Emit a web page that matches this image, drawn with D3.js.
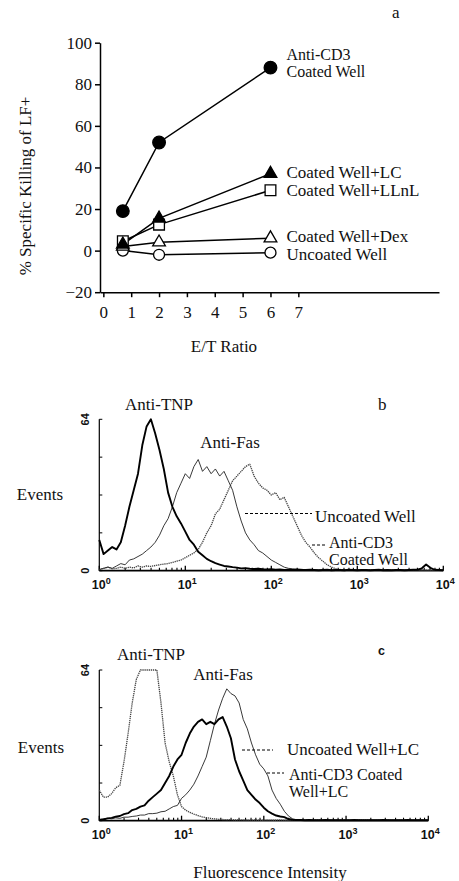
<!DOCTYPE html>
<html>
<head>
<meta charset="utf-8">
<script src="https://cdn.jsdelivr.net/npm/d3@7"></script>
<style>
body { margin: 0; background: #fff; }
svg { display: block; }
text { font-family: "Liberation Serif", "Times New Roman", serif; font-size: 17px; fill: #111; }
.sans { font-family: "Liberation Sans", Arial, sans-serif; font-weight: bold; font-size: 12.5px; }
.two { font-size: 16px; }
</style>
</head>
<body>
<script>
// ---- panel a : % specific killing vs E/T ratio
var etRatio = [0.7, 2, 6];
var killCD3 = [19, 52, 88];
var killLC = [3, 15.5, 37];
var killLLnL = [4.5, 12.5, 29];
var killDex = [2, 4, 6];
var killUncoated = [0, -2, -1];
var xTicksA = [0, 1, 2, 3, 4, 5, 6, 7];
var yTicksA = [-20, 0, 20, 40, 60, 80, 100];

// ---- panels b, c : flow histograms, log channel every 0.05 decade (0..4)
var channels = d3.range(0, 4.001, 0.05);
var decades = [0, 1, 2, 3, 4];
var countTicks = [0, 16, 32, 48, 64];

var tnpB = [13,7,8.5,10,9,12,19,27,34,41, 53,61,64,58,51,43,33,27,23,20,
  16.5,13,11,8,6.5,5,4,3.2,2.6,2, 1.8,1.5,1.3,1,1.1,0.8,0.7,0.8,0.6,0.5,
  0.6,0.4,0.5,0.3,0.4,0.3,0.5,0.3,0.3,0.4, 0.3,0.2,0.3,0.4,0.2,0.3,0.3,0.2,0.4,0.3,
  0.2,0.3,0.3,0.2,0.3,0.4,0.2,0.3,0.2,0.3, 0.3,0.2,0.3,0.4,0.4,1,2.6,1.2,0.4,0.3, 0.2];
var uncoatedB = [0.5,1,1.5,1,2,3,2.5,4.5,5,6, 7,8.5,10,12,15,19,22,27,33,37,
  41,39,44,47,42,44,41,43,40,42, 38,34,27,21,16,13,11,8.5,7.5,6,
  4.5,3.5,2.5,1.5,1,0.8,0.5,0.6,0.4,0.3, 0.3,0.2,0.3,0.2,0.2,0.3,0.2,0.2,0.1,0.2,
  0.2,0.1,0.2,0.2,0.1,0.2,0.1,0.1,0.2,0.1, 0.1,0.2,0.1,0.1,0.1,0.2,0.1,0.1,0.1,0.1, 0.1];
var cd3B = [0.5,1,1.5,0.8,1,1.5,1,1.5,1.2,2, 1.5,2,1.8,2.2,2.5,2.8,3,3.5,4,4.5,
  5.5,6.5,7.5,9,12,16,19,24,26,30, 34,38,40,42,44,45,40,37,35,34,
  32,33,30,31,27,23,19,15,12,10, 7.5,5.5,4,2.5,1.5,0.8,0.5,0.4,0.3,0.3,
  0.2,0.3,0.2,0.3,0.2,0.2,0.3,0.2,0.2,0.3, 0.2,0.2,0.3,0.2,0.2,0.2,0.3,0.2,0.2,0.2, 0.2];

var tnpC = [13,10,10,11.5,14,15,25,37,50,60, 64,64,64,64,64,50,33,25,19,11,
  6,4.5,3.5,2.8,2.2,1.6,1.3,1,0.8,0.6, 0.5,0.4,0.5,0.3,0.4,0.3,0.3,0.2,0.3,0.2,
  0.2,0.3,0.2,0.2,0.3,0.2,0.2,0.2,0.3,0.2, 0.2,0.2,0.3,0.2,0.2,0.2,0.2,0.3,0.2,0.2,
  0.2,0.2,0.2,0.3,0.2,0.2,0.2,0.2,0.2,0.2, 0.3,0.2,0.2,0.2,0.2,0.2,0.2,0.3,0.2,0.2, 0.2];
var uncoatedLcC = [0.3,0.5,1,1.2,1.7,2,2.8,3.2,4.5,5, 6,6.5,8.5,10,11.5,13,16,19,23,26,
  28,33,37,40,42,43,41,42,41,43, 44,40,35,26,21,17,13,11,9,7.5,
  5.5,4,3,2.2,1.8,1.5,0.7,0.4,0.3,0.3, 0.2,0.3,0.2,0.2,0.2,0.3,0.2,0.2,0.2,0.2,
  0.2,0.2,0.3,0.2,0.2,0.2,0.2,0.2,0.2,0.3, 0.2,0.2,0.2,0.2,0.2,0.3,0.2,0.2,0.2,0.2, 0.2];
var cd3LcC = [0.5,0.8,1,0.8,1.2,1,1.5,1.5,1.8,2, 2.4,2.4,3,3,3.2,3.8,4,5,6,6.5,
  9.5,11,13,15.5,19,23,27,34,41,47, 52,56,54,53,50,43,39,33,28,24,
  22,19,13,9.5,7,4,2,0.8,0.4,0.3, 0.2,0.3,0.2,0.2,0.2,0.2,0.3,0.2,0.2,0.2,
  0.2,0.2,0.2,0.3,0.2,0.2,0.2,0.2,0.2,0.2, 0.3,0.2,0.2,0.2,0.2,0.2,0.2,0.2,0.3,0.2, 0.2];

var svg = d3.select('body').append('svg')
  .attr('width', 459)
  .attr('height', 881);

// ================= panel a
var xA = d3.scaleLinear().domain([-0.12, 12.05]).range([100, 439]);
var yA = d3.scaleLinear().domain([-20, 100]).range([292.2, 42.7]);

var ga = svg.append('g');

ga.append('g')
  .attr('transform', 'translate(0,' + yA(-20) + ')')
  .call(d3.axisBottom(xA).tickValues(xTicksA).tickSize(5).tickSizeOuter(0).tickPadding(9));
ga.append('g')
  .attr('transform', 'translate(' + xA(-0.12) + ',0)')
  .call(d3.axisLeft(yA).tickValues(yTicksA).tickSize(5).tickSizeOuter(0).tickPadding(3));

ga.selectAll('.domain, .tick line').attr('stroke', '#000').attr('stroke-width', 1.5);
ga.selectAll('.tick text').attr('font-family', null).attr('font-size', null).attr('fill', '#111');

var seriesA = [
  {vals: killUncoated, sym: d3.symbolCircle, size: 95, fill: '#fff', label: ['Uncoated Well'], dy: [7]},
  {vals: killDex, sym: d3.symbolTriangle, size: 70, fill: '#fff', label: ['Coated Well+Dex'], dy: [4]},
  {vals: killLLnL, sym: d3.symbolSquare, size: 115, fill: '#fff', label: ['Coated Well+LLnL'], dy: [6]},
  {vals: killLC, sym: d3.symbolTriangle, size: 70, fill: '#000', label: ['Coated Well+LC'], dy: [4]},
  {vals: killCD3, sym: d3.symbolCircle, size: 125, fill: '#000', label: ['Anti-CD3', 'Coated Well'], dy: [-8, 9]}
];

var lineA = d3.line()
  .x(function(d, i) { return xA(etRatio[i]); })
  .y(function(d) { return yA(d); });

seriesA.forEach(function(s) {
  ga.append('path')
    .attr('d', lineA(s.vals))
    .attr('fill', 'none')
    .attr('stroke', '#000')
    .attr('stroke-width', 1.5);
});
seriesA.forEach(function(s) {
  ga.selectAll(null)
    .data(s.vals)
    .enter().append('path')
    .attr('d', d3.symbol().type(s.sym).size(s.size))
    .attr('transform', function(d, i) { return 'translate(' + xA(etRatio[i]) + ',' + yA(d) + ')'; })
    .attr('fill', s.fill)
    .attr('stroke', '#000')
    .attr('stroke-width', 1.3);
  var last = s.vals[s.vals.length - 1];
  s.label.forEach(function(t, j) {
    ga.append('text')
      .attr('class', s.label.length > 1 ? 'two' : null)
      .attr('x', xA(etRatio[2]) + 16)
      .attr('y', yA(last) + s.dy[j])
      .text(t);
  });
});

ga.append('text').attr('x', 392).attr('y', 18).text('a');
ga.append('text')
  .attr('transform', 'translate(31,186) rotate(-90)')
  .attr('text-anchor', 'middle')
  .text('% Specific Killing of LF+');
ga.append('text').attr('x', 224).attr('y', 352).attr('text-anchor', 'middle').text('E/T Ratio');

// ================= flow panels
function flowPanel(opt) {
  var x = d3.scaleLog().domain([1, 1e4]).range(opt.xr);
  var y = d3.scaleLinear().domain([0, 64]).range(opt.yr);
  var g = svg.append('g');

  // minor + major ticks on the log axis, pointing up
  var minor = [];
  decades.slice(0, 4).forEach(function(k) {
    for (var m = 2; m < 10; m++) minor.push(m * Math.pow(10, k));
  });
  g.selectAll(null).data(minor).enter().append('line')
    .attr('x1', function(d) { return x(d); }).attr('x2', function(d) { return x(d); })
    .attr('y1', y(0)).attr('y2', y(0) - 3)
    .attr('stroke', '#000').attr('stroke-width', 1.1);
  g.selectAll(null).data(decades).enter().append('line')
    .attr('x1', function(d) { return x(Math.pow(10, d)); }).attr('x2', function(d) { return x(Math.pow(10, d)); })
    .attr('y1', y(0)).attr('y2', y(0) - 5)
    .attr('stroke', '#000').attr('stroke-width', 1.3);
  g.selectAll(null).data(countTicks).enter().append('line')
    .attr('x1', x(1)).attr('x2', x(1) + 3)
    .attr('y1', function(d) { return y(d); }).attr('y2', function(d) { return y(d); })
    .attr('stroke', '#000').attr('stroke-width', 1);

  g.append('line').attr('x1', x(1)).attr('x2', x(1e4)).attr('y1', y(0)).attr('y2', y(0))
    .attr('stroke', '#000').attr('stroke-width', 1.8);
  g.append('line').attr('x1', x(1)).attr('x2', x(1)).attr('y1', y(0)).attr('y2', y(64))
    .attr('stroke', '#000').attr('stroke-width', 1.2);

  var lab = g.selectAll(null).data(decades).enter().append('text')
    .attr('class', 'sans')
    .attr('x', function(d) { return x(Math.pow(10, d)) + 2; })
    .attr('y', y(0) + 18)
    .attr('text-anchor', 'middle');
  lab.append('tspan').text('10');
  lab.append('tspan').attr('dy', -5).style('font-size', '9px').text(function(d) { return d; });

  [0, 64].forEach(function(v) {
    g.append('text').attr('class', 'sans')
      .style('font-size', '11px')
      .attr('transform', 'translate(' + (x(1) - 10) + ',' + y(v) + ') rotate(-90)')
      .attr('text-anchor', 'middle')
      .text(v);
  });

  var line = d3.line()
    .x(function(d, i) { return x(Math.pow(10, channels[i])); })
    .y(function(d) { return y(Math.min(d, 64)); });

  opt.curves.forEach(function(c) {
    g.append('path')
      .attr('d', line(c.vals))
      .attr('fill', 'none')
      .attr('stroke', c.color)
      .attr('stroke-width', c.width)
      .attr('stroke-dasharray', c.dash || null)
      .attr('stroke-linejoin', 'round');
  });

  opt.leaders.forEach(function(l) {
    g.append('line').attr('x1', l[0]).attr('x2', l[1]).attr('y1', l[2]).attr('y2', l[2])
      .attr('stroke', '#000').attr('stroke-width', 1).attr('stroke-dasharray', '3,2');
  });
  opt.texts.forEach(function(t) {
    g.append('text').attr('x', t[0]).attr('y', t[1])
      .attr('text-anchor', t[3] || 'start')
      .attr('class', t[4] || null)
      .text(t[2]);
  });
}

flowPanel({
  xr: [99.3, 443.3], yr: [570.7, 419.3],
  curves: [
    {vals: cd3B, color: '#444', width: 1.3, dash: '1.3,0.8'},
    {vals: uncoatedB, color: '#222', width: 0.9},
    {vals: tnpB, color: '#000', width: 1.9}
  ],
  leaders: [[245, 312, 513.5], [312, 325, 545]],
  texts: [
    [159, 410, 'Anti-TNP', 'middle'],
    [378, 410, 'b'],
    [230, 448, 'Anti-Fas', 'middle'],
    [40, 500, 'Events', 'middle'],
    [315, 521.5, 'Uncoated Well'],
    [329, 548, 'Anti-CD3', 'start', 'two'],
    [329, 564.5, 'Coated Well', 'start', 'two']
  ]
});

flowPanel({
  xr: [99.3, 428.3], yr: [820.7, 670],
  curves: [
    {vals: tnpC, color: '#444', width: 1.3, dash: '1.3,0.8'},
    {vals: cd3LcC, color: '#222', width: 0.9},
    {vals: uncoatedLcC, color: '#000', width: 1.9}
  ],
  leaders: [[242, 273, 750], [267, 284, 773]],
  texts: [
    [151, 660, 'Anti-TNP', 'middle'],
    [378, 655, 'c', 'start', 'sans'],
    [223, 680, 'Anti-Fas', 'middle'],
    [41, 753, 'Events', 'middle'],
    [287, 755, 'Uncoated Well+LC'],
    [289, 780, 'Anti-CD3 Coated', 'start', 'two'],
    [289, 797, 'Well+LC', 'start', 'two']
  ]
});
svg.append('text').attr('x', 270).attr('y', 878).attr('text-anchor', 'middle').text('Fluorescence Intensity');
</script>
</body>
</html>
